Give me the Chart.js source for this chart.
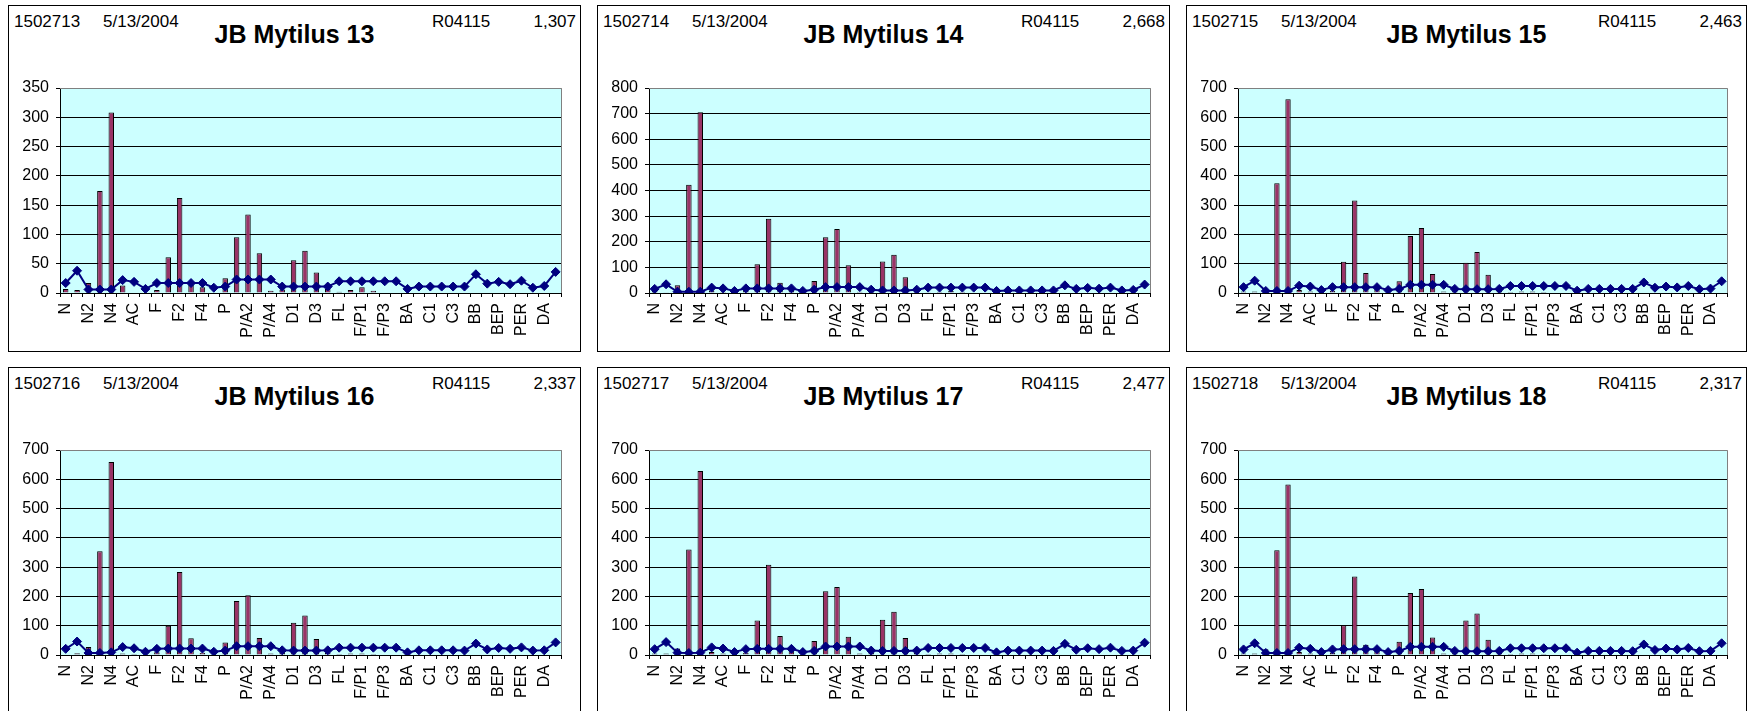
<!DOCTYPE html>
<html>
<head>
<meta charset="utf-8">
<title>JB Mytilus 13–18</title>
<script src="https://cdn.jsdelivr.net/npm/chart.js@4.4.1/dist/chart.umd.min.js"></script>
<style>
  html, body { margin: 0; padding: 0; background: #fff; }
  body { width: 1764px; height: 711px; overflow: hidden; position: relative;
         font-family: "Liberation Sans", Arial, sans-serif; color: #000; }
  .panel { position: absolute; box-sizing: border-box; border: 1px solid #000; background: #fff; }
  .panel canvas { position: absolute; left: -1px; top: -1px; }
  .hdr { position: absolute; font-size: 17px; line-height: 17px; white-space: nowrap; }
  .ttl { position: absolute; left: 0; right: 0; text-align: center; font-weight: bold;
         font-size: 25px; line-height: 25px; white-space: nowrap; }
</style>
</head>
<body>
<script>
// Analyte categories along the x axis (only every other one is labelled)
const categories = ["N","N1","N2","N3","N4","B","AC","AE","F","F1","F2","F3","F4","A",
  "P","P/A1","P/A2","P/A3","P/A4","D","D1","D2","D3","D4","FL","PY","F/P1","F/P2","F/P3","F/P4",
  "BA","C","C1","C2","C3","C4","BB","BK","BEP","BAP","PER","IND","DA","GHI"];

// Sample header fields
const sampleIds = ["1502713","1502714","1502715","1502716","1502717","1502718"];
const sampleDates = ["5/13/2004","5/13/2004","5/13/2004","5/13/2004","5/13/2004","5/13/2004"];
const sampleTitles = ["JB Mytilus 13","JB Mytilus 14","JB Mytilus 15","JB Mytilus 16","JB Mytilus 17","JB Mytilus 18"];
const runCodes = ["R04115","R04115","R04115","R04115","R04115","R04115"];
const totals = ["1,307","2,668","2,463","2,337","2,477","2,317"];

// Y axis range per chart
const yMax = [350, 800, 700, 700, 700, 700];
const yStep = [50, 100, 100, 100, 100, 100];

// Concentrations (bars) and reference profile (line) per sample
const bars13 = [7,5,17,174,308,13,1,0,5,61,162,14,10,0,25,95,134,68,4,6,56,72,35,7,2,5,10,4,0,0,0,1,0,0,0,0,0,0,0,0,0,0,0,0];
const line13 = [17,38,6,6,6,22,19,7,17,17,17,17,17,9,11,23,23,23,23,11,11,11,11,11,20,20,20,20,20,20,7,11,11,11,11,11,32,16,19,15,21,9,12,36];

const bars14 = [10,3,30,422,705,10,5,0,8,112,290,40,15,2,47,218,250,108,5,10,123,149,61,10,3,5,8,5,0,0,0,1,0,0,0,0,0,0,0,0,0,0,0,0];
const line14 = [16,34,5,5,5,21,18,8,18,18,18,18,18,8,13,23,23,23,23,13,10,10,10,13,21,21,21,21,21,21,8,10,10,10,10,10,30,16,20,17,21,10,12,33];

const bars15 = [5,5,12,375,662,10,5,0,8,107,316,68,15,2,40,195,222,65,5,8,103,140,62,8,3,5,5,3,0,0,0,1,0,0,0,0,0,0,0,0,0,0,0,0];
const line15 = [20,42,7,7,7,25,22,10,20,20,20,20,20,10,14,28,28,28,28,14,13,13,13,14,24,24,24,24,24,24,8,14,14,14,14,14,36,18,22,19,24,13,15,40];

const bars16 = [2,6,27,354,659,5,3,0,9,100,283,57,8,2,43,184,204,58,5,8,110,135,55,8,3,5,5,3,0,0,0,1,0,0,0,0,0,0,0,0,0,0,0,0];
const line16 = [21,46,7,7,9,27,23,11,21,22,22,22,22,11,15,30,30,30,30,16,15,15,15,16,25,25,25,25,25,25,9,16,16,16,16,15,39,19,24,21,26,15,16,43];

const bars17 = [5,5,22,360,628,10,5,0,8,118,308,65,15,2,48,218,232,62,5,8,120,148,58,8,3,5,5,3,0,0,0,1,0,0,0,0,0,0,0,0,0,0,0,0];
const line17 = [20,44,8,7,8,26,22,10,20,21,21,21,21,10,14,29,29,29,29,15,14,14,14,15,24,24,24,24,24,24,9,15,15,15,15,14,38,18,23,20,25,14,15,42];

const bars18 = [5,5,20,358,582,10,5,0,8,102,268,35,20,2,45,212,225,60,5,8,118,142,52,8,3,5,5,3,0,0,0,1,0,0,0,0,0,0,0,0,0,0,0,0];
const line18 = [19,40,7,7,7,25,21,10,19,20,20,20,20,10,14,28,28,28,28,14,13,13,13,14,23,23,23,23,23,23,8,14,14,14,14,13,36,17,22,19,24,13,14,40];

const barSeries = [bars13, bars14, bars15, bars16, bars17, bars18];
const lineSeries = [line13, line14, line15, line16, line17, line18];

// Panel grid geometry
const colX = [8, 597, 1186];
const colW = [573, 573, 561];
const rowY = [5, 367];
const panelH = 347;

const FONT = '"Liberation Sans", Arial, sans-serif';

// Cyan plot background plus grey frame on the top and right edges
const plotFrame = {
  id: 'plotFrame',
  beforeDraw(chart) {
    const a = chart.chartArea, ctx = chart.ctx;
    ctx.save();
    ctx.fillStyle = '#CCFFFF';
    ctx.fillRect(a.left, a.top, a.right - a.left, a.bottom - a.top);
    ctx.restore();
  },
  beforeDatasetsDraw(chart) {
    const a = chart.chartArea, ctx = chart.ctx;
    const t = Math.round(a.top) + 0.5, r = Math.round(a.right) + 0.5;
    ctx.save();
    ctx.strokeStyle = '#808080';
    ctx.lineWidth = 1;
    ctx.beginPath();
    ctx.moveTo(Math.round(a.left), t);
    ctx.lineTo(r, t);
    ctx.lineTo(r, Math.round(a.bottom));
    ctx.stroke();
    ctx.restore();
  }
};

function addText(parent, cls, text, style) {
  const el = document.createElement('div');
  el.className = cls;
  el.textContent = text;
  Object.assign(el.style, style);
  parent.appendChild(el);
  return el;
}

for (let k = 0; k < 6; k++) {
  const col = k % 3, row = Math.floor(k / 3);
  const W = colW[col];
  const panel = document.createElement('div');
  panel.className = 'panel';
  Object.assign(panel.style, { left: colX[col] + 'px', top: rowY[row] + 'px', width: W + 'px', height: panelH + 'px' });
  document.body.appendChild(panel);

  addText(panel, 'hdr', sampleIds[k], { left: '5px', top: '7px' });
  addText(panel, 'hdr', sampleDates[k], { left: '94px', top: '7px' });
  addText(panel, 'hdr', runCodes[k], { left: (W - 150) + 'px', top: '7px' });
  addText(panel, 'hdr', totals[k], { right: '4px', top: '7px' });
  addText(panel, 'ttl', sampleTitles[k], { top: '16px' });

  const canvas = document.createElement('canvas');
  canvas.width = W;
  canvas.height = panelH;
  panel.appendChild(canvas);

  new Chart(canvas, {
    type: 'bar',
    data: {
      labels: categories,
      datasets: [
        {
          type: 'line',
          data: lineSeries[k],
          borderColor: '#000080',
          backgroundColor: '#000080',
          borderWidth: 2,
          pointStyle: 'rectRot',
          pointRadius: 4.5,
          pointBorderWidth: 1,
          pointBackgroundColor: '#000080',
          pointBorderColor: '#000080',
          tension: 0,
          order: 0
        },
        {
          type: 'bar',
          data: barSeries[k],
          backgroundColor: '#993366',
          borderColor: '#000000',
          borderWidth: 1,
          barPercentage: 0.48,
          categoryPercentage: 1.0,
          order: 1
        }
      ]
    },
    options: {
      responsive: false,
      animation: false,
      events: [],
      layout: { padding: { top: 83, right: 14, left: 0, bottom: 0 } },
      plugins: { legend: { display: false }, tooltip: { enabled: false }, title: { display: false } },
      scales: {
        x: {
          offset: true,
          grid: { display: true, drawOnChartArea: false, drawTicks: true, tickLength: 4, color: '#000', offset: true },
          border: { display: true, color: '#000', width: 1 },
          ticks: {
            autoSkip: false, maxRotation: 90, minRotation: 90, padding: 6,
            color: '#000', font: { family: FONT, size: 16 },
            callback: (v, i) => (i % 2 === 0 ? categories[i] : '')
          },
          afterFit: (axis) => { axis.height = 59; }
        },
        y: {
          min: 0, max: yMax[k],
          grid: { color: '#000', lineWidth: 1, tickLength: 4, drawTicks: true },
          border: { display: true, color: '#000', width: 1 },
          ticks: { stepSize: yStep[k], padding: 7, color: '#000', font: { family: FONT, size: 16 } },
          afterFit: (axis) => { axis.width = 52; }
        }
      }
    },
    plugins: [plotFrame]
  });
}
</script>
</body>
</html>
